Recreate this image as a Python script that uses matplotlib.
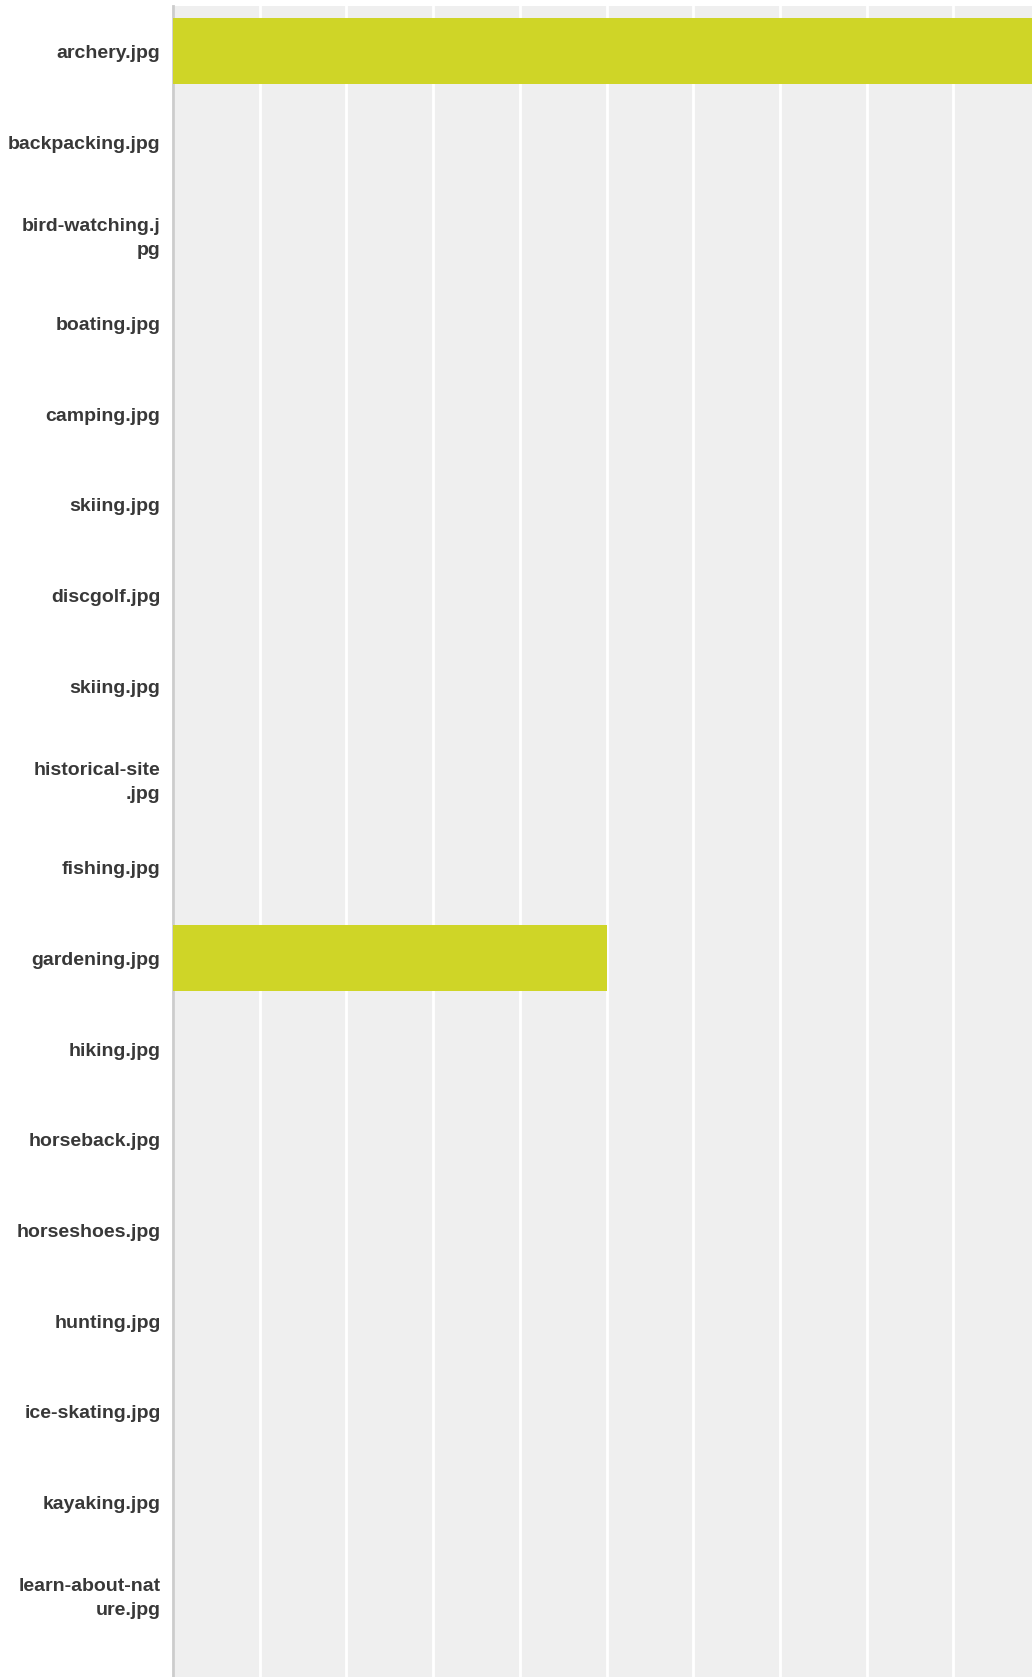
import matplotlib
matplotlib.use("Agg")
import matplotlib.pyplot as plt

labels = ["archery.jpg", "backpacking.jpg", "bird-watching.j\npg", "boating.jpg",
          "camping.jpg", "skiing.jpg", "discgolf.jpg", "skiing.jpg",
          "historical-site\n.jpg", "fishing.jpg", "gardening.jpg", "hiking.jpg",
          "horseback.jpg", "horseshoes.jpg", "hunting.jpg", "ice-skating.jpg",
          "kayaking.jpg", "learn-about-nat\nure.jpg"]
values = [2, 0, 0, 0, 0, 0, 0, 0, 0, 0, 1, 0, 0, 0, 0, 0, 0, 0]

W, H = 1032, 1677
fig = plt.figure(figsize=(W / 100, H / 100), dpi=100)
# plot area runs past the right and bottom edges of the image
left, right, top = 173, 1040, 6
ax = fig.add_axes([left / W, 0, (right - left) / W, (H - top) / H])
ax.set_facecolor("#efefef")

y = list(range(len(labels)))
ax.barh(y, values, height=0.73, color="#cfd527", linewidth=0, zorder=3)

ax.set_xlim(0, 2)
ax.set_xticks([i * 0.2 for i in range(11)])
ax.set_xticklabels([])
ax.tick_params(axis="x", length=0)
ax.grid(axis="x", color="white", linewidth=2, zorder=1)
ax.set_axisbelow(True)

band = 90.7
ax.set_ylim(-0.5 + (H - top) / band, -0.5)
ax.set_yticks(y)
ax.set_yticklabels(labels, fontsize=14, fontweight="bold", color="#383838",
                   family="Liberation Sans", linespacing=1.55)
ax.tick_params(axis="y", length=0, pad=9)

for s in ["top", "right", "bottom"]:
    ax.spines[s].set_visible(False)
ax.spines["left"].set_color("#cccccc")
ax.spines["left"].set_linewidth(2)

fig.savefig("out.png", dpi=100)
